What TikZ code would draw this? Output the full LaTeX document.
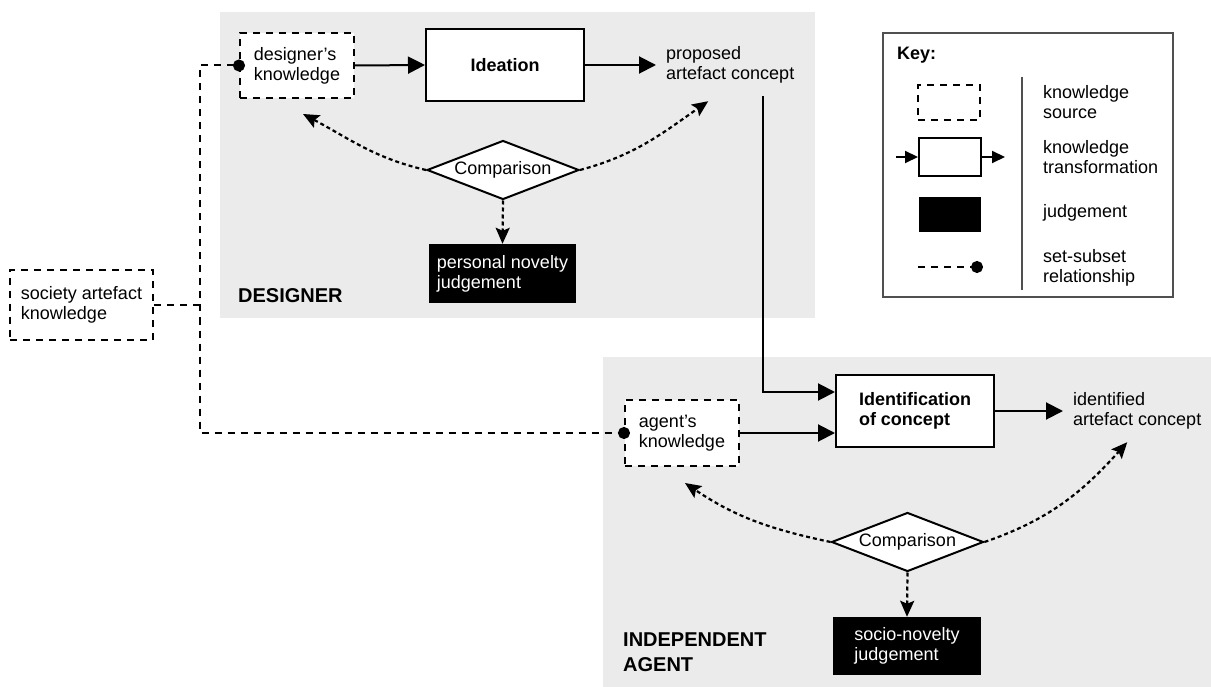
\documentclass[tikz,border=0pt]{standalone}
\usepackage{fontspec}
\setmainfont{Liberation Sans}
\usetikzlibrary{arrows.meta,shapes.geometric,calc}
\definecolor{panel}{HTML}{EBEBEB}
\definecolor{keyline}{HTML}{505050}
\begin{document}
\begin{tikzpicture}[x=1pt,y=1pt,
  base/.style={font=\fontsize{18}{20}\selectfont, align=left, inner sep=0pt},
  kbox/.style={base, draw, fill=white, line width=2pt, dash pattern=on 7pt off 6pt},
  tbox/.style={base, draw, fill=white, line width=2pt, font=\fontsize{18}{20}\selectfont\bfseries},
  jbox/.style={base, fill=black, text=white},
  cmp/.style={base, diamond, draw, fill=white, line width=2pt, minimum width=152pt, minimum height=59pt, aspect=2.6},
  txt/.style={base},
  lbl/.style={base, font=\fontsize{20}{25}\selectfont\bfseries},
  flow/.style={line width=2pt, -{Triangle[length=17pt,width=17pt]}},
  keyflow/.style={line width=2pt, -{Triangle[length=13pt,width=12pt]}},
  cmpline/.style={line width=2.2pt, dash pattern=on 4pt off 3pt, -{Stealth[length=16pt,width=14pt,inset=3pt]}},
  setline/.style={line width=2pt, dash pattern=on 7pt off 6pt}
]
\useasboundingbox (0,0) rectangle (1211,-687);
\fill[panel] (220,-12) rectangle (815,-318);
\fill[panel] (603,-357) rectangle (1211,-687);

% designer
\node[kbox, minimum width=114pt, minimum height=65pt] (dk) at (297,-65.5) {designer’s\\knowledge};
\node[tbox, minimum width=158pt, minimum height=72pt] (idea) at (505,-65) {Ideation};
\node[txt, anchor=west, inner xsep=10pt, minimum height=62pt] (prop) at (656,-65) {proposed\\artefact concept};
\node[cmp] (cmp1) at (503,-170) {Comparison};
\node[jbox, minimum width=147pt, minimum height=59pt] (pnj) at (502.5,-273.5) {personal novelty\\judgement};
\node[lbl, anchor=base west] (deslbl) at (238,-302) {DESIGNER};

% agent
\node[kbox, minimum width=114pt, minimum height=66pt] (agk) at (682,-433) {agent’s\\knowledge};
\node[tbox, minimum width=158pt, minimum height=72pt] (ident) at (915,-411) {Identification\\of concept};
\node[txt, anchor=west, inner xsep=10pt, minimum height=62pt] (idc) at (1063,-411) {identified\\artefact concept};
\node[cmp] (cmp2) at (907.5,-542) {Comparison};
\node[jbox, minimum width=148pt, minimum height=58pt] (snj) at (907,-646) {socio-novelty\\judgement};
\node[lbl, anchor=west] (aglbl) at (623,-652.4) {INDEPENDENT\\AGENT};

% society
\node[kbox, minimum width=143pt, minimum height=70pt] (soc) at (81.5,-305) {society artefact\\knowledge};
\coordinate (jx) at (200,0);
\coordinate (turn) at (763,-392);

% connectors
\draw[flow] (dk.east) -- (idea.west);
\draw[flow] (idea.east) -- (prop.west);
\draw[flow] (prop.south -| turn) -- (turn) -- (turn -| ident.west);
\draw[flow] (agk.east) -- (agk.east -| ident.west);
\draw[flow] (ident.east) -- (idc.west);

\draw[cmpline] (cmp1.west) to[out=167,in=-28] ([xshift=6pt,yshift=-15pt]dk.south);
\draw[cmpline] (cmp1.east) to[out=15,in=-145] ([xshift=-22pt,yshift=-5pt]prop.south);
\draw[cmpline] (cmp1.south) -- (pnj.north);
\draw[cmpline] (cmp2.west) to[out=168,in=-34] ([xshift=3pt,yshift=-16pt]agk.south);
\draw[cmpline] (cmp2.east) to[out=19,in=-132] ([xshift=-10pt]idc.south);
\draw[cmpline] (cmp2.south) -- (snj.north);

\draw[setline, {Circle[length=12pt]}-{Circle[length=12pt]}, shorten <=-6pt, shorten >=-6pt]
  (dk.west) -- (dk.west -| jx) -- (agk.west -| jx) -- (agk.west);
\draw[setline] (soc.east) -- (soc.east -| jx);

% key
\node[draw=keyline, line width=1.2pt, fill=white, minimum width=290pt, minimum height=264pt, inner sep=0pt] (key) at (1028,-165) {};
\node[base, font=\fontsize{18}{20}\selectfont\bfseries, anchor=west] (keyt) at (897,-55) {Key:};
\node[kbox, minimum width=62pt, minimum height=35pt] (k1) at (949,-102.5) {};
\node[tbox, minimum width=62pt, minimum height=38pt] (k2) at (950,-157) {};
\node[jbox, minimum width=62pt, minimum height=35pt] (k3) at (950,-214.5) {};
\coordinate (k2in) at (896,-157);
\coordinate (k2out) at (1005,-157);
\draw[keyflow] (k2in) -- (k2.west);
\draw[keyflow] (k2.east) -- (k2out);
\coordinate (k4a) at (918,-267);
\coordinate (k4b) at (977,-267);
\draw[setline, -{Circle[length=12pt]}, shorten >=-6pt] (k4a) -- (k4b);
\coordinate (kv1) at (1022,-77);
\coordinate (kv2) at (1022,-290);
\draw[keyline, line width=1.2pt] (kv1) -- (kv2);
\node[txt, anchor=west] (l1) at (1043,-102.5) {knowledge\\source};
\node[txt, anchor=west] (l2) at (1043,-157.5) {knowledge\\transformation};
\node[txt, anchor=west] (l3) at (1043,-213) {judgement};
\node[txt, anchor=west] (l4) at (1043,-268) {set-subset\\relationship};
\end{tikzpicture}
\end{document}
